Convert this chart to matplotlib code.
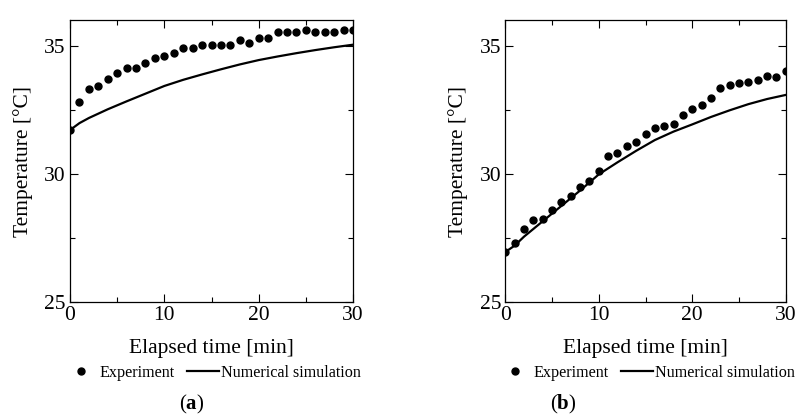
import matplotlib
matplotlib.use("Agg")
import matplotlib.pyplot as plt
from matplotlib.ticker import MultipleLocator

plt.rcParams['font.family'] = ['Liberation Serif', 'DejaVu Serif']
plt.rcParams['mathtext.fontset'] = 'custom'
plt.rcParams['mathtext.rm'] = 'Liberation Serif'
plt.rcParams['mathtext.bf'] = 'Liberation Serif:bold'

# measured data (one reading per minute)
t_exp = [0, 1, 2, 3, 4, 5, 6, 7, 8, 9, 10, 11, 12, 13, 14, 15,
         16, 17, 18, 19, 20, 21, 22, 23, 24, 25, 26, 27, 28, 29, 30]
exp_a = [31.71, 32.82, 33.31, 33.42, 33.71, 33.92, 34.12, 34.12, 34.32, 34.51, 34.61,
         34.71, 34.92, 34.91, 35.03, 35.03, 35.03, 35.01, 35.22, 35.12, 35.32,
         35.32, 35.52, 35.52, 35.52, 35.62, 35.52, 35.52, 35.52, 35.62, 35.62]
exp_b = [26.95, 27.29, 27.84, 28.21, 28.23, 28.60, 28.91, 29.13, 29.49, 29.73, 30.13,
         30.71, 30.83, 31.09, 31.26, 31.57, 31.79, 31.87, 31.95, 32.31, 32.53,
         32.70, 32.97, 33.36, 33.48, 33.53, 33.60, 33.65, 33.81, 33.78, 34.00]

# numerical simulation
t_sim = [0, 1, 2, 4, 6, 8, 10, 12, 14, 16, 18, 20, 22, 24, 26, 28, 30]
sim_a = [31.71, 31.98, 32.18, 32.52, 32.83, 33.13, 33.43, 33.67, 33.88, 34.08,
         34.27, 34.44, 34.58, 34.71, 34.83, 34.94, 35.04]
sim_b = [26.95, 27.20, 27.55, 28.15, 28.75, 29.35, 29.98, 30.45, 30.90, 31.32,
         31.65, 31.93, 32.22, 32.48, 32.72, 32.92, 33.08]

panels = [('a', exp_a, sim_a), ('b', exp_b, sim_b)]

fig = plt.figure(figsize=(8.04, 4.17), dpi=100)
ax_rects = [[0.0871, 0.2758, 0.352, 0.676], [0.6285, 0.2758, 0.3488, 0.676]]
letter_x = [0.239, 0.701]

for rect, (letter, e, s), lx in zip(ax_rects, panels, letter_x):
    ax = fig.add_axes(rect)
    ax.plot(t_exp, e, 'o', color='black', markersize=5, label='Experiment')
    ax.plot(t_sim, s, '-', color='black', linewidth=1.6, label='Numerical simulation')
    ax.set_xlim(0, 30)
    ax.set_ylim(25, 36)
    ax.xaxis.set_major_locator(MultipleLocator(10))
    ax.xaxis.set_minor_locator(MultipleLocator(5))
    ax.yaxis.set_major_locator(MultipleLocator(5))
    ax.yaxis.set_minor_locator(MultipleLocator(2.5))
    ax.tick_params(which='both', direction='in', top=True, right=True,
                   labelsize=15.5, width=0.8)
    ax.tick_params(which='major', length=5.5, pad=3)
    ax.tick_params(which='minor', length=3.8)
    for sp in ax.spines.values():
        sp.set_linewidth(0.9)
    ax.set_xlabel('Elapsed time [min]', fontsize=15.5, labelpad=10)
    ax.set_ylabel('Temperature [°C]', fontsize=15.5, labelpad=8)
    ax.legend(loc='center', bbox_to_anchor=(0.505, -0.252), ncol=2, frameon=False,
              fontsize=11.6, handlelength=2.0, handletextpad=0.1, columnspacing=0.8,
              borderpad=0, borderaxespad=0)
    fig.text(lx, 0.031, r'($\mathbf{' + letter + '}$)', ha='center', va='center',
             fontsize=15)

fig.savefig('out.png', dpi=100)
